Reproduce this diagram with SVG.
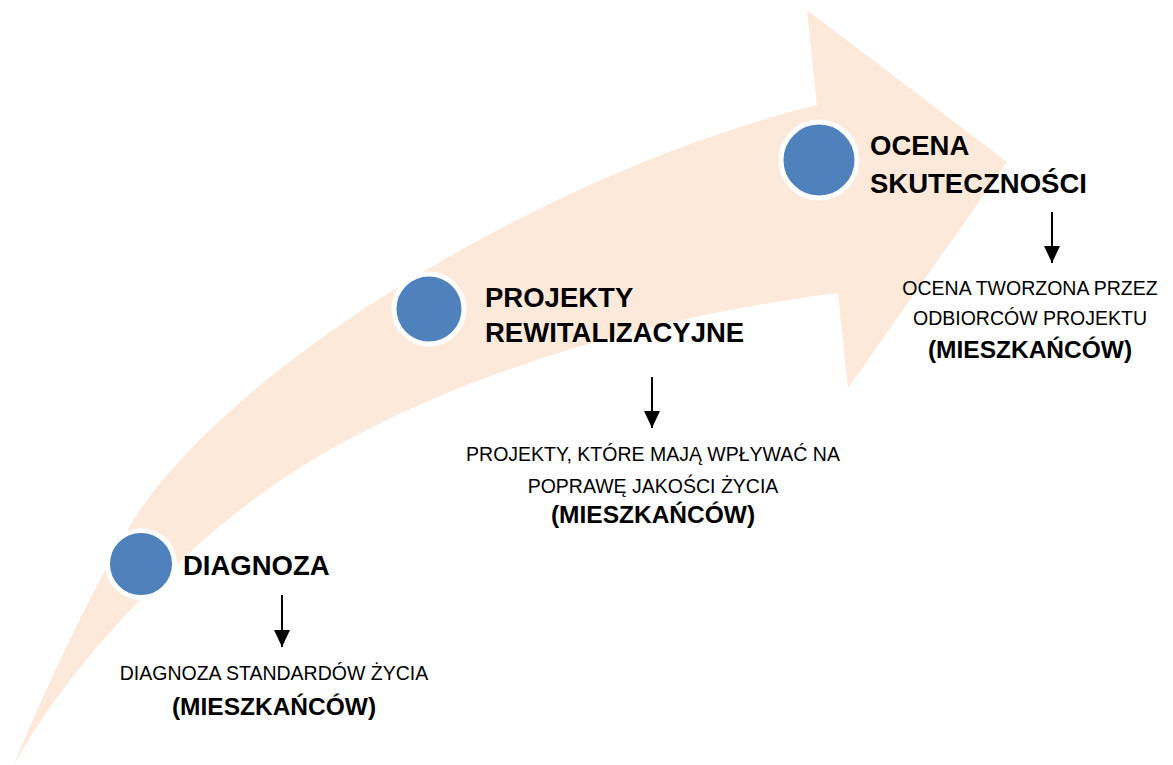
<svg xmlns="http://www.w3.org/2000/svg" width="1173" height="765" viewBox="0 0 1173 765">
<style>
.band{fill:#FDE9D9;stroke:none}
.dot{fill:#4F81BD;stroke:#FFFFFF;stroke-width:5}
.title{font-family:"Liberation Sans",Arial,sans-serif;font-weight:bold;font-size:27.5px;fill:#000}
.desc{font-family:"Liberation Sans",Arial,sans-serif;font-size:19.5px;fill:#000;text-anchor:middle}
.descb{font-family:"Liberation Sans",Arial,sans-serif;font-weight:bold;font-size:24.5px;fill:#000;text-anchor:middle}
.conn{stroke:#000;stroke-width:2;fill:none;marker-end:url(#ah)}
</style>
<defs>
<marker id="ah" markerUnits="userSpaceOnUse" viewBox="0 0 17 16" markerWidth="17" markerHeight="16" refX="17" refY="8" orient="auto">
<path d="M0,0 L17,8 L0,16 Z" fill="#000"/>
</marker>
</defs>
<rect width="1173" height="765" fill="#FFFFFF"/>
<g id="arrow-band">
<path class="band" d="M14,765 C40,700 110,550 147,500 C262,345 563,167.5 817,105 L807,10 L1007,162 L848,388 L838,293 C638,317 403,387.5 253,500 C150,578 60,680 14,765 Z"/>
</g>
<g id="connectors">
<line class="conn" x1="282" y1="595" x2="282" y2="647"/>
<line class="conn" x1="652" y1="377" x2="652" y2="428"/>
<line class="conn" x1="1052" y1="212" x2="1052" y2="263"/>
</g>
<g id="node-diagnoza">
<circle class="dot" cx="141" cy="564" r="33.5"/>
<text class="title" x="183" y="575">DIAGNOZA</text>
<text class="desc" x="274" y="680">DIAGNOZA STANDARDÓW ŻYCIA</text>
<text class="descb" x="274" y="715">(MIESZKAŃCÓW)</text>
</g>
<g id="node-projekty">
<circle class="dot" cx="429" cy="309" r="35"/>
<text class="title" x="485" y="307">PROJEKTY</text>
<text class="title" x="485" y="342">REWITALIZACYJNE</text>
<text class="desc" x="653" y="461">PROJEKTY, KTÓRE MAJĄ WPŁYWAĆ NA</text>
<text class="desc" x="653" y="493">POPRAWĘ JAKOŚCI ŻYCIA</text>
<text class="descb" x="653" y="523">(MIESZKAŃCÓW)</text>
</g>
<g id="node-ocena">
<circle class="dot" cx="819" cy="160" r="38" stroke-width="4.5"/>
<text class="title" x="870" y="155">OCENA</text>
<text class="title" x="870" y="193">SKUTECZNOŚCI</text>
<text class="desc" x="1030" y="295">OCENA TWORZONA PRZEZ</text>
<text class="desc" x="1030" y="325">ODBIORCÓW PROJEKTU</text>
<text class="descb" x="1030" y="358">(MIESZKAŃCÓW)</text>
</g>
</svg>
